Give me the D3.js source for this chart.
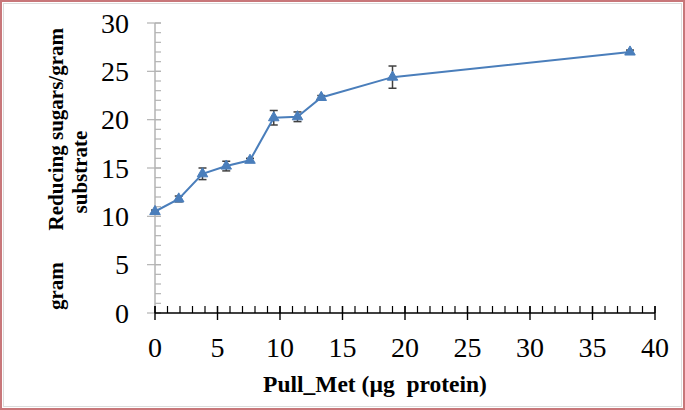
<!DOCTYPE html>
<html>
<head>
<meta charset="utf-8">
<script src="https://cdn.jsdelivr.net/npm/d3@7"></script>
<style>
  html, body { margin: 0; padding: 0; background: #fff; }
  svg { display: block; }
  svg text { font-family: "Liberation Serif", "Times New Roman", "DejaVu Serif", serif; }
</style>
</head>
<body>
<svg id="chart" width="685" height="410"></svg>
<script>
// ---- data ----
const xValues = [0, 1.9, 3.8, 5.7, 7.6, 9.5, 11.4, 13.3, 19, 38];
const yValues = [10.5, 11.8, 14.4, 15.2, 15.8, 20.2, 20.3, 22.3, 24.4, 27.0];
const yErrors = [0.15, 0.3, 0.6, 0.5, 0.2, 0.75, 0.5, 0.2, 1.15, 0.2];
const xTicks = [0, 5, 10, 15, 20, 25, 30, 35, 40];
const yTicks = [0, 5, 10, 15, 20, 25, 30];
const xTitle = "Pull_Met (µg  protein)";
const yTitleParts = ["gram", "Reducing sugars/gram", "substrate"];

const svg = d3.select("#chart");
const W = 685, H = 410;

// frame
svg.append("rect").attr("x", 1).attr("y", 1).attr("width", W - 2).attr("height", H - 2)
  .attr("fill", "#fff").attr("stroke", "#c8777a").attr("stroke-width", 2);
svg.append("rect").attr("x", 3.5).attr("y", 3.5).attr("width", W - 7).attr("height", H - 7)
  .attr("fill", "none").attr("stroke", "#dcdcdc").attr("stroke-width", 1);

const x = d3.scaleLinear().domain([0, 40]).range([155, 655]);
const y = d3.scaleLinear().domain([0, 30]).range([313, 23]);

// ---- y axis (gray) ----
const gy = svg.append("g");
gy.append("line").attr("x1", x(0)).attr("x2", x(0)).attr("y1", y(30)).attr("y2", y(0))
  .attr("stroke", "#b3b3b3").attr("stroke-width", 1.5);
const yMinor = d3.range(0, 31, 1);
gy.selectAll("line.ymin").data(yMinor).join("line")
  .attr("x1", x(0)).attr("x2", x(0) + 6)
  .attr("y1", d => y(d)).attr("y2", d => y(d))
  .attr("stroke", "#b3b3b3").attr("stroke-width", 1.2);
gy.selectAll("line.ymaj").data(yTicks).join("line")
  .attr("x1", x(0) - 8).attr("x2", x(0) + 6)
  .attr("y1", d => y(d)).attr("y2", d => y(d))
  .attr("stroke", "#b3b3b3").attr("stroke-width", 1.2);
gy.selectAll("text").data(yTicks).join("text")
  .attr("x", 129).attr("y", d => y(d)).attr("dy", "0.34em")
  .attr("text-anchor", "end")
  .attr("font-size", 28)
  .text(d => d);

// ---- x axis (black) ----
const gx = svg.append("g");
gx.append("line").attr("x1", x(0)).attr("x2", x(40)).attr("y1", y(0)).attr("y2", y(0))
  .attr("stroke", "#000").attr("stroke-width", 1.5);
const xMinor = d3.range(0, 41, 1);
gx.selectAll("line.xmin").data(xMinor).join("line")
  .attr("x1", d => x(d)).attr("x2", d => x(d))
  .attr("y1", y(0) - 7).attr("y2", y(0))
  .attr("stroke", "#000").attr("stroke-width", 1.2);
gx.selectAll("line.xmaj").data(xTicks).join("line")
  .attr("x1", d => x(d)).attr("x2", d => x(d))
  .attr("y1", y(0) - 7).attr("y2", y(0) + 7)
  .attr("stroke", "#000").attr("stroke-width", 1.4);
gx.selectAll("text").data(xTicks).join("text")
  .attr("x", d => x(d)).attr("y", 357)
  .attr("text-anchor", "middle")
  .attr("font-size", 28)
  .text(d => d);

// ---- titles ----
svg.append("text").attr("x", 375).attr("y", 392)
  .attr("text-anchor", "middle")
  .attr("font-weight", "bold").attr("font-size", 23.5)
  .style("white-space", "pre")
  .text(xTitle);

const yTitleStyle = sel => sel.attr("font-weight", "bold").attr("font-size", 21);
svg.append("text").call(yTitleStyle)
  .attr("transform", "translate(63,310) rotate(-90)")
  .attr("text-anchor", "start")
  .text(yTitleParts[0]);
svg.append("text").call(yTitleStyle)
  .attr("transform", "translate(63,28) rotate(-90)")
  .attr("text-anchor", "end")
  .text(yTitleParts[1]);
svg.append("text").call(yTitleStyle)
  .attr("transform", "translate(87,172) rotate(-90)")
  .attr("text-anchor", "middle")
  .text(yTitleParts[2]);

// ---- data ----
const pts = xValues.map((v, i) => ({ x: v, y: yValues[i], e: yErrors[i] }));

const gErr = svg.append("g").attr("stroke", "#404040").attr("stroke-width", 1.5);
gErr.selectAll("line.v").data(pts).join("line")
  .attr("x1", d => x(d.x)).attr("x2", d => x(d.x))
  .attr("y1", d => y(d.y - d.e)).attr("y2", d => y(d.y + d.e));
gErr.selectAll("line.t").data(pts).join("line")
  .attr("x1", d => x(d.x) - 4).attr("x2", d => x(d.x) + 4)
  .attr("y1", d => y(d.y + d.e)).attr("y2", d => y(d.y + d.e));
gErr.selectAll("line.b").data(pts).join("line")
  .attr("x1", d => x(d.x) - 4).attr("x2", d => x(d.x) + 4)
  .attr("y1", d => y(d.y - d.e)).attr("y2", d => y(d.y - d.e));

svg.append("path").datum(pts)
  .attr("fill", "none").attr("stroke", "#4a7ebb").attr("stroke-width", 2)
  .attr("d", d3.line().x(d => x(d.x)).y(d => y(d.y)));

svg.selectAll("path.m").data(pts).join("path")
  .attr("class", "m")
  .attr("transform", d => `translate(${x(d.x)},${y(d.y)})`)
  .attr("d", d3.symbol().type(d3.symbolTriangle).size(48))
  .attr("fill", "#4a7ebb").attr("stroke", "#4a7ebb").attr("stroke-width", 1);
</script>
</body>
</html>
